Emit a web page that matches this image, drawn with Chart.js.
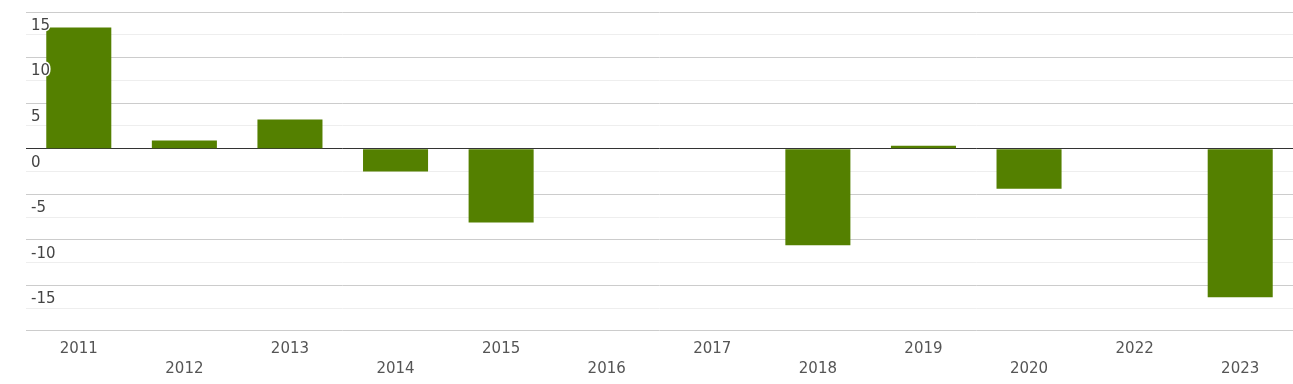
<!DOCTYPE html>
<html>
<head>
<meta charset="utf-8">
<script src="https://cdn.jsdelivr.net/npm/chart.js@4/dist/chart.umd.min.js"></script>
<style>
html,body{margin:0;padding:0;background:#fff;}
#wrap{width:1293px;height:384px;position:relative;}
</style>
</head>
<body>
<div id="wrap"><canvas id="c" width="1293" height="384"></canvas></div>
<script>
const categories = ['2011','2012','2013','2014','2015','2016','2017','2018','2019','2020','2022','2023'];
const values = [13.3, 0.9, 3.2, -2.5, -8.1, null, null, -10.6, 0.33, -4.4, null, -16.3];
const yMin = -20, yMax = 15, yStep = 2.5, labelStep = 5;

new Chart(document.getElementById('c'), {
  type: 'bar',
  data: {
    labels: categories,
    datasets: [{
      data: values,
      backgroundColor: '#548000',
      borderWidth: 0,
      barPercentage: 0.616,
      categoryPercentage: 1.0
    }]
  },
  options: {
    responsive: false,
    animation: false,
    layout: { padding: { top: 12, left: 16, right: 0, bottom: -3 } },
    plugins: { legend: { display: false }, tooltip: { enabled: false } },
    scales: {
      x: {
        grid: { display: false, drawTicks: false },
        border: { display: false },
        ticks: {
          maxRotation: 0, autoSkip: false, padding: 8,
          color: '#555',
          font: { family: 'DejaVu Sans', size: 15, lineHeight: 1.3334 },
          callback: function(v, i) {
            const l = categories[i];
            return i % 2 === 0 ? [l, ''] : ['', l];
          }
        },
        afterFit: function(s) { s.paddingLeft = 0; s.paddingRight = 0; }
      },
      y: {
        min: yMin, max: yMax,
        afterFit: function(s) { s.paddingTop = 0; s.paddingBottom = 0; },
        grid: {
          drawTicks: false,
          lineWidth: 1,
          color: function(ctx) {
            const v = ctx.tick && ctx.tick.value;
            if (v === 0) return '#333333';
            if (Math.abs(v % labelStep) < 1e-6) return '#cccccc';
            return '#eeeeee';
          }
        },
        border: { display: false },
        ticks: {
          stepSize: yStep,
          mirror: true,
          padding: 5,
          labelOffset: 14,
          z: 1,
          color: '#444',
          textStrokeColor: '#ffffff',
          textStrokeWidth: 3,
          font: { family: 'DejaVu Sans', size: 15 },
          callback: function(v) {
            if (Math.abs(v % labelStep) < 1e-6 && v > yMin) return String(v);
            return '';
          }
        }
      }
    }
  }
});
</script>
</body>
</html>
